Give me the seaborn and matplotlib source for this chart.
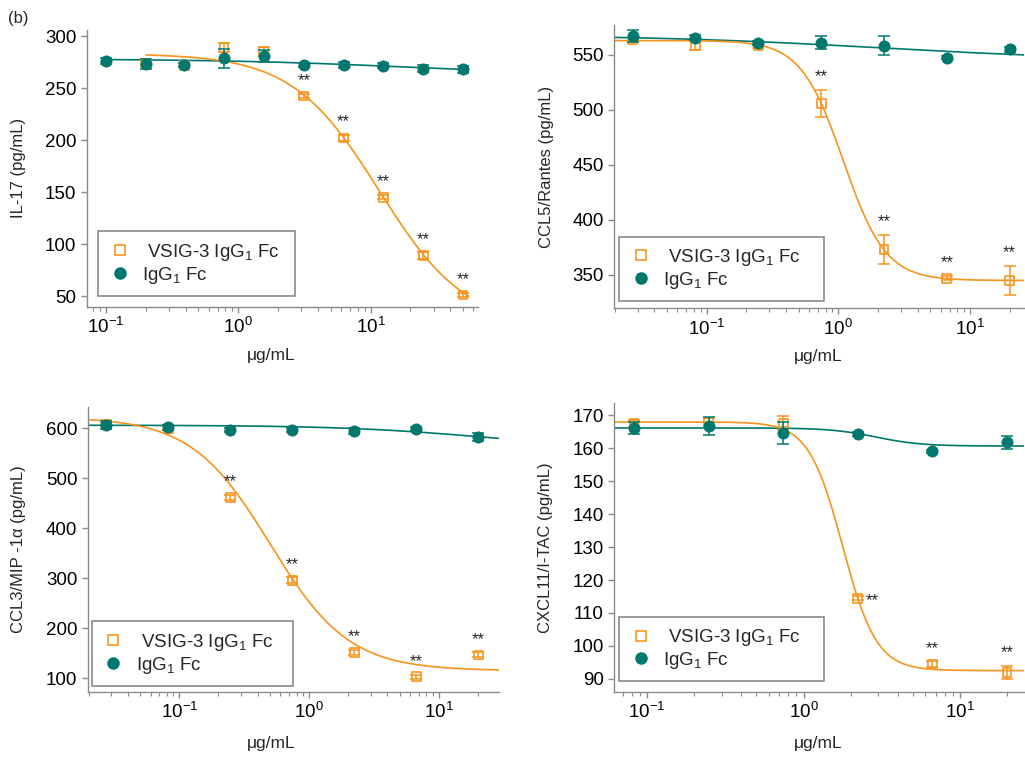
import numpy as np
import matplotlib
matplotlib.use("Agg")
import matplotlib.pyplot as plt
import seaborn as sns
from matplotlib.lines import Line2D
from matplotlib.ticker import LogLocator, NullFormatter

ORANGE = "#F7941D"
TEAL = "#00786E"
GREY = "#8a8a8a"

# --- IL-17 (two-fold dilutions) ---
il17_x_fc = [0.1, 0.2, 0.39, 0.78, 1.56, 3.125, 6.25, 12.5, 25, 50]
il17_fc = [276, 273, 272, 278.5, 281, 272, 272, 271.6, 268.7, 267.8]
il17_fc_err = [3, 5, 2, 9, 6, 2, 3, 2, 3, 3]
il17_x_vsig = [0.2, 0.39, 0.78, 1.56, 3.125, 6.25, 12.5, 25, 50]
il17_vsig = [274, 272, 288.8, 285, 242.3, 202, 145, 89, 51]
il17_vsig_err = [3, 2, 4, 4, 2, 3, 2, 3, 2]
il17_stars = [3.125, 6.25, 12.5, 25, 50]
il17_fit_fc = [278, 262, 20, 0.6]       # top, bottom, EC50, hill
il17_fit_vsig = [283, 20, 11.6, 1.32]

# --- CCL5/Rantes (three-fold dilutions) ---
ccl5_x = [0.0274, 0.0823, 0.247, 0.741, 2.22, 6.67, 20]
ccl5_fc = [567, 565.7, 560.6, 561, 558.5, 547.6, 555]
ccl5_fc_err = [5.5, 2, 2, 6, 8.3, 1.5, 2]
ccl5_vsig = [563.6, 558.5, 558, 506, 373.4, 347, 345]
ccl5_vsig_err = [2, 4, 2, 12.4, 13, 2, 13]
ccl5_stars = [0.741, 2.22, 6.67, 20]
ccl5_fit_fc = [568, 545, 2, 0.5]
ccl5_fit_vsig = [563, 345, 1.09, 2.69]

# --- CCL3/MIP-1a ---
ccl3_x = [0.0274, 0.0823, 0.247, 0.741, 2.22, 6.67, 20]
ccl3_fc = [607, 601.6, 596.4, 597, 593.7, 598.3, 581.8]
ccl3_fc_err = [8, 5, 4, 4, 6, 4, 8]
ccl3_vsig = [607, 600, 461, 295.5, 151, 102.6, 146.4]
ccl3_vsig_err = [4, 4, 5, 6, 5, 4, 5]
ccl3_stars = [0.247, 0.741, 2.22, 6.67, 20]
ccl3_fit_fc = [606, 560, 20, 0.8]
ccl3_fit_vsig = [622, 115, 0.50, 1.43]

# --- CXCL11/I-TAC ---
cxcl11_x = [0.0823, 0.247, 0.741, 2.22, 6.67, 20]
cxcl11_fc = [166.2, 166.8, 164.6, 164.4, 159.1, 161.9]
cxcl11_fc_err = [1.9, 2.6, 3.3, 0.6, 0.5, 2]
cxcl11_vsig = [167.5, 167.8, 167.7, 114.5, 94.5, 91.9]
cxcl11_vsig_err = [1, 1.5, 2.1, 0.6, 0.8, 2]
cxcl11_stars = [2.22, 6.67, 20]
cxcl11_fit_fc = [166.2, 160.7, 2.9, 3.0]
cxcl11_fit_vsig = [168, 92.5, 1.78, 4.0]


def four_pl(x, top, bottom, ec50, hill):
    return bottom + (top - bottom) / (1 + (x / ec50) ** hill)


panels = [
    dict(rect=[0.0846, 0.5959, 0.3818, 0.3646], xlim=(0.0714, 65), ylim=(39.7, 305.8),
         yticks=[50, 100, 150, 200, 250, 300], ylabel="IL-17 (pg/mL)",
         x_fc=il17_x_fc, fc=il17_fc, fc_err=il17_fc_err,
         x_vsig=il17_x_vsig, vsig=il17_vsig, vsig_err=il17_vsig_err,
         stars=il17_stars, star_right=[], fit_fc=il17_fit_fc, fit_vsig=il17_fit_vsig,
         span_fc=(0.1, 55), span_vsig=(0.2, 55),
         leg=(0.029, 0.039, 0.503), ylab_x=-0.155, xlab=(0.471, -0.15)),
    dict(rect=[0.5993, 0.5938, 0.3997, 0.3733], xlim=(0.0199, 25.7), ylim=(319.7, 577.2),
         yticks=[350, 400, 450, 500, 550], ylabel="CCL5/Rantes (pg/mL)",
         x_fc=ccl5_x, fc=ccl5_fc, fc_err=ccl5_fc_err,
         x_vsig=ccl5_x, vsig=ccl5_vsig, vsig_err=ccl5_vsig_err,
         stars=ccl5_stars, star_right=[], fit_fc=ccl5_fit_fc, fit_vsig=ccl5_fit_vsig,
         span_fc=None, span_vsig=None,
         leg=(0.012, 0.025, 0.50), ylab_x=-0.147, xlab=(0.497, -0.145)),
    dict(rect=[0.0856, 0.0887, 0.4013, 0.3755], xlim=(0.0197, 29), ylim=(73, 643),
         yticks=[100, 200, 300, 400, 500, 600], ylabel="CCL3/MIP -1\u03b1 (pg/mL)",
         x_fc=ccl3_x, fc=ccl3_fc, fc_err=ccl3_fc_err,
         x_vsig=ccl3_x, vsig=ccl3_vsig, vsig_err=ccl3_vsig_err,
         stars=ccl3_stars, star_right=[], fit_fc=ccl3_fit_fc, fit_vsig=ccl3_fit_vsig,
         span_fc=None, span_vsig=None,
         leg=(0.01, 0.02, 0.49), ylab_x=-0.15, xlab=(0.446, -0.155)),
    dict(rect=[0.5993, 0.0887, 0.3997, 0.3800], xlim=(0.0616, 25.7), ylim=(86.1, 173.7),
         yticks=[90, 100, 110, 120, 130, 140, 150, 160, 170], ylabel="CXCL11/I-TAC (pg/mL)",
         x_fc=cxcl11_x, fc=cxcl11_fc, fc_err=cxcl11_fc_err,
         x_vsig=cxcl11_x, vsig=cxcl11_vsig, vsig_err=cxcl11_vsig_err,
         stars=cxcl11_stars, star_right=[2.22], fit_fc=cxcl11_fit_fc, fit_vsig=cxcl11_fit_vsig,
         span_fc=None, span_vsig=None,
         leg=(0.012, 0.036, 0.50), ylab_x=-0.15, xlab=(0.497, -0.155)),
]

sns.set_style("ticks")
plt.rcParams["font.family"] = ["Liberation Sans", "DejaVu Sans"]
plt.rcParams["mathtext.default"] = "regular"

fig = plt.figure(figsize=(10.25, 7.59), dpi=100)
fig.text(0.008, 0.975, "(b)", fontsize=12, va="center", ha="left")

for p in panels:
    ax = fig.add_axes(p["rect"])
    ax.set_xscale("log")

    # fitted dose-response curves
    for fit, span, col in [(p["fit_fc"], p["span_fc"], TEAL), (p["fit_vsig"], p["span_vsig"], ORANGE)]:
        lo, hi = span if span else p["xlim"]
        xs = np.logspace(np.log10(lo), np.log10(hi), 300)
        sns.lineplot(x=xs, y=four_pl(xs, *fit), ax=ax, color=col, lw=1.2, sort=False)

    # VSIG-3 IgG1 Fc (open squares) then IgG1 Fc (filled circles)
    ax.errorbar(p["x_vsig"], p["vsig"], yerr=p["vsig_err"], fmt="none",
                ecolor=ORANGE, elinewidth=1.1, capsize=4.5, capthick=1.1, zorder=3)
    sns.scatterplot(x=p["x_vsig"], y=p["vsig"], ax=ax, marker="s", s=40,
                    facecolor="none", edgecolor=ORANGE, linewidth=1.2, zorder=4)
    ax.errorbar(p["x_fc"], p["fc"], yerr=p["fc_err"], fmt="none",
                ecolor=TEAL, elinewidth=1.1, capsize=4.5, capthick=1.1, zorder=5)
    sns.scatterplot(x=p["x_fc"], y=p["fc"], ax=ax, marker="o", s=66,
                    color=TEAL, edgecolor=TEAL, linewidth=0.5, zorder=6)

    # significance marks
    for xs_ in p["stars"]:
        i = p["x_vsig"].index(xs_)
        if xs_ in p["star_right"]:
            ax.annotate("**", (xs_, p["vsig"][i]), xytext=(6, -2), textcoords="offset points",
                        ha="left", va="center", fontsize=12)
        else:
            top = p["vsig"][i] + p["vsig_err"][i]
            ax.annotate("**", (xs_, top), xytext=(0, 4), textcoords="offset points",
                        ha="center", va="bottom", fontsize=12)

    ax.set_xlim(*p["xlim"])
    ax.set_ylim(*p["ylim"])
    ax.set_yticks(p["yticks"])
    ax.xaxis.set_major_locator(LogLocator(base=10, numticks=10))
    ax.xaxis.set_minor_locator(LogLocator(base=10, subs=np.arange(2, 10), numticks=20))
    ax.xaxis.set_minor_formatter(NullFormatter())

    sns.despine(ax=ax)
    for s in ["left", "bottom"]:
        ax.spines[s].set_color(GREY)
        ax.spines[s].set_linewidth(1.0)
    ax.tick_params(axis="both", which="major", colors=GREY, labelcolor="black",
                   labelsize=13.5, length=4, width=1.0)
    ax.tick_params(axis="x", which="minor", colors=GREY, length=3, width=0.8)

    ax.set_ylabel(p["ylabel"], fontsize=12)
    ax.set_xlabel("\u03bcg/mL", fontsize=12.5)
    ax.yaxis.set_label_coords(p["ylab_x"], 0.5)
    ax.xaxis.set_label_coords(*p["xlab"])

    handles = [
        Line2D([], [], ls="none", marker="s", ms=6.5, mfc="none", mec=ORANGE, mew=1.2),
        Line2D([], [], ls="none", marker="o", ms=8, mfc=TEAL, mec=TEAL),
    ]
    lx, ly, lw = p["leg"]
    leg = ax.legend(handles, [" VSIG-3 IgG$_1$ Fc", "IgG$_1$ Fc"], loc="lower left",
                    bbox_to_anchor=(lx, ly, lw, 0.2), mode="expand", fontsize=13.5,
                    frameon=True, fancybox=False, framealpha=1, borderpad=0.55,
                    labelspacing=0.1, handletextpad=0.6, handlelength=1.2,
                    borderaxespad=0)
    leg.get_frame().set_edgecolor(GREY)
    leg.get_frame().set_linewidth(1.2)

fig.savefig("out.png", dpi=100)
